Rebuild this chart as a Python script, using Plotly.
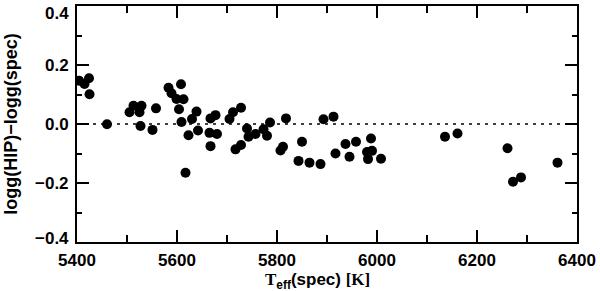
import plotly.graph_objects as go

teff = [5404, 5415, 5424, 5425, 5460, 5505, 5513, 5529, 5525, 5527,
        5551, 5558, 5583, 5589, 5599, 5608, 5613, 5604, 5609, 5623,
        5630, 5639, 5642, 5617, 5665, 5667, 5667, 5677, 5680, 5705,
        5712, 5728, 5717, 5728, 5740, 5743, 5757, 5773, 5780, 5786,
        5818, 5807, 5812, 5850, 5843, 5865, 5887, 5893, 5913, 5917,
        5937, 5945, 5958, 5988, 5980, 5990, 5982, 6008, 6136, 6161,
        6261, 6272, 6288, 6361]
dlogg = [0.147, 0.136, 0.155, 0.101, -0.001, 0.040, 0.062, 0.062, 0.040, -0.007,
         -0.020, 0.053, 0.123, 0.104, 0.085, 0.135, 0.084, 0.050, 0.007, -0.038,
         0.017, 0.042, -0.022, -0.165, -0.030, -0.075, 0.019, 0.030, -0.034, 0.017,
         0.040, 0.055, -0.086, -0.071, -0.015, -0.043, -0.034, -0.018, -0.040, 0.005,
         0.019, -0.090, -0.077, -0.060, -0.125, -0.131, -0.136, 0.016, 0.025, -0.100,
         -0.068, -0.111, -0.060, -0.049, -0.095, -0.091, -0.119, -0.118, -0.043, -0.032,
         -0.082, -0.196, -0.181, -0.131]

zero_x = [5400, 6400]
zero_y = [0, 0]

xticks = [5400, 5600, 5800, 6000, 6200, 6400]
yticks = [-0.4, -0.2, 0.0, 0.2, 0.4]
ytick_text = ["\u22120.4", "\u22120.2", "0.0", "0.2", "0.4"]

fig = go.Figure()
fig.add_trace(go.Scatter(x=zero_x, y=zero_y, mode="lines",
                         line=dict(color="black", width=1.5, dash="3px,5px"),
                         hoverinfo="skip", showlegend=False))
fig.add_trace(go.Scatter(x=teff, y=dlogg, mode="markers",
                         marker=dict(color="black", size=10, line=dict(width=0)),
                         showlegend=False))

tickfont = dict(family="Liberation Sans", size=17, color="black", weight="bold")

# y tick labels as annotations so the end labels can sit inside the frame, as in the original
for val, txt in zip(yticks, ytick_text):
    shift = 0
    if val == max(yticks):
        shift = -7
    elif val == min(yticks):
        shift = 4
    fig.add_annotation(x=0, xref="paper", y=val, yref="y", text=txt,
                       showarrow=False, xanchor="right", yanchor="middle",
                       xshift=-6, yshift=shift, font=tickfont)

# x axis title
fig.add_annotation(x=0.5, xref="paper", y=0, yref="paper",
                   text="<span style='font-family:Liberation Serif'>T</span><sub>eff</sub>(spec) <span style='font-family:Liberation Serif'>[K]</span>",
                   showarrow=False, xanchor="center", yanchor="middle",
                   xshift=-10, yshift=-39, borderpad=0,
                   font=dict(family="Liberation Sans", size=17, color="black", weight="bold"))

fig.update_layout(
    width=600, height=291,
    margin=dict(l=76.5, r=23, t=6, b=49.3, autoexpand=False),
    paper_bgcolor="white", plot_bgcolor="white",
    font=dict(family="Liberation Sans", color="black"),
    xaxis=dict(range=[5400, 6400], tickvals=xticks, ticks="inside", ticklen=12,
               tickwidth=2, tickcolor="black", showline=True, linewidth=2,
               linecolor="black", mirror="allticks", showgrid=False, zeroline=False,
               tickfont=tickfont, automargin=False, ticklabelstandoff=2,
               ticklabeloverflow="allow",
               minor=dict(dtick=100, ticks="inside", ticklen=7, tickwidth=2,
                          tickcolor="black", showgrid=False)),
    yaxis=dict(range=[-0.4, 0.4], tickvals=yticks, showticklabels=False,
               ticks="inside", ticklen=12,
               tickwidth=2, tickcolor="black", showline=True, linewidth=2,
               linecolor="black", mirror="allticks", showgrid=False, zeroline=False,
               tickfont=tickfont, automargin=False,
               minor=dict(dtick=0.1, ticks="inside", ticklen=5, tickwidth=2,
                          tickcolor="black", showgrid=False),
               title=dict(text="logg(HIP)\u2212logg(spec)",
                          font=dict(family="Liberation Sans", size=18, color="black", weight="bold"),
                          standoff=53)),
)

fig.write_html("out.html", config={"displayModeBar": False},
               post_script="document.body.style.margin='0';")
